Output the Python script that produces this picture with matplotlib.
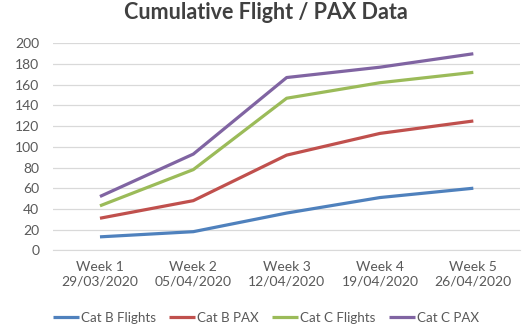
import numpy as np
from matplotlib import pyplot as plt

plt.rcParams['font.family'] = ['Lato', 'DejaVu Sans']

weeks = ["Week 1\n29/03/2020", "Week 2\n05/04/2020", "Week 3\n12/04/2020",
         "Week 4\n19/04/2020", "Week 5\n26/04/2020"]
catBFlights = [13, 18, 36, 51, 60]
catBPax = [31, 48, 92, 113, 125]
catCFlights = [43, 78, 147, 162, 172]
catCPax = [52, 93, 167, 177, 190]

series = [
    ("Cat B Flights", catBFlights, "#4F81BD"),
    ("Cat B PAX", catBPax, "#C0504D"),
    ("Cat C Flights", catCFlights, "#9BBB59"),
    ("Cat C PAX", catCPax, "#8064A2"),
]

fig = plt.figure(figsize=(5.32, 3.31), dpi=100)
axis = fig.add_axes([53.3 / 532, 1 - 250.3 / 331, (520 - 53.3) / 532, (250.3 - 43.4) / 331])

x = np.arange(len(weeks))
for label, values, color in series:
    axis.plot(x, values, color=color, linewidth=2.3, label=label, solid_capstyle="butt")

axis.set_xlim(-0.5, len(weeks) - 0.5)
axis.set_ylim(0, 200)
axis.set_yticks(np.arange(0, 201, 20))
axis.set_xticks(x, weeks)
axis.grid(axis="y", color="#D9D9D9", linewidth=0.9)
axis.set_axisbelow(True)
for side in ["top", "right", "left"]:
    axis.spines[side].set_visible(False)
axis.spines["bottom"].set_color("#D9D9D9")
axis.tick_params(length=0, labelsize=10, labelcolor="#595959")
axis.tick_params(axis="y", pad=10)
axis.tick_params(axis="x", pad=8)

fig.text(0.5, 0.962, "Cumulative Flight / PAX Data", ha="center", va="center",
         fontsize=15.5, fontweight="bold", color="#404040")

fig.legend(loc="center", bbox_to_anchor=(0.5, 1 - 317.5 / 331), ncol=4, frameon=False,
           fontsize=9.6, handlelength=1.95, handletextpad=0.15, columnspacing=1.0,
           labelcolor="#595959")

plt.savefig("out.png", dpi=100)
